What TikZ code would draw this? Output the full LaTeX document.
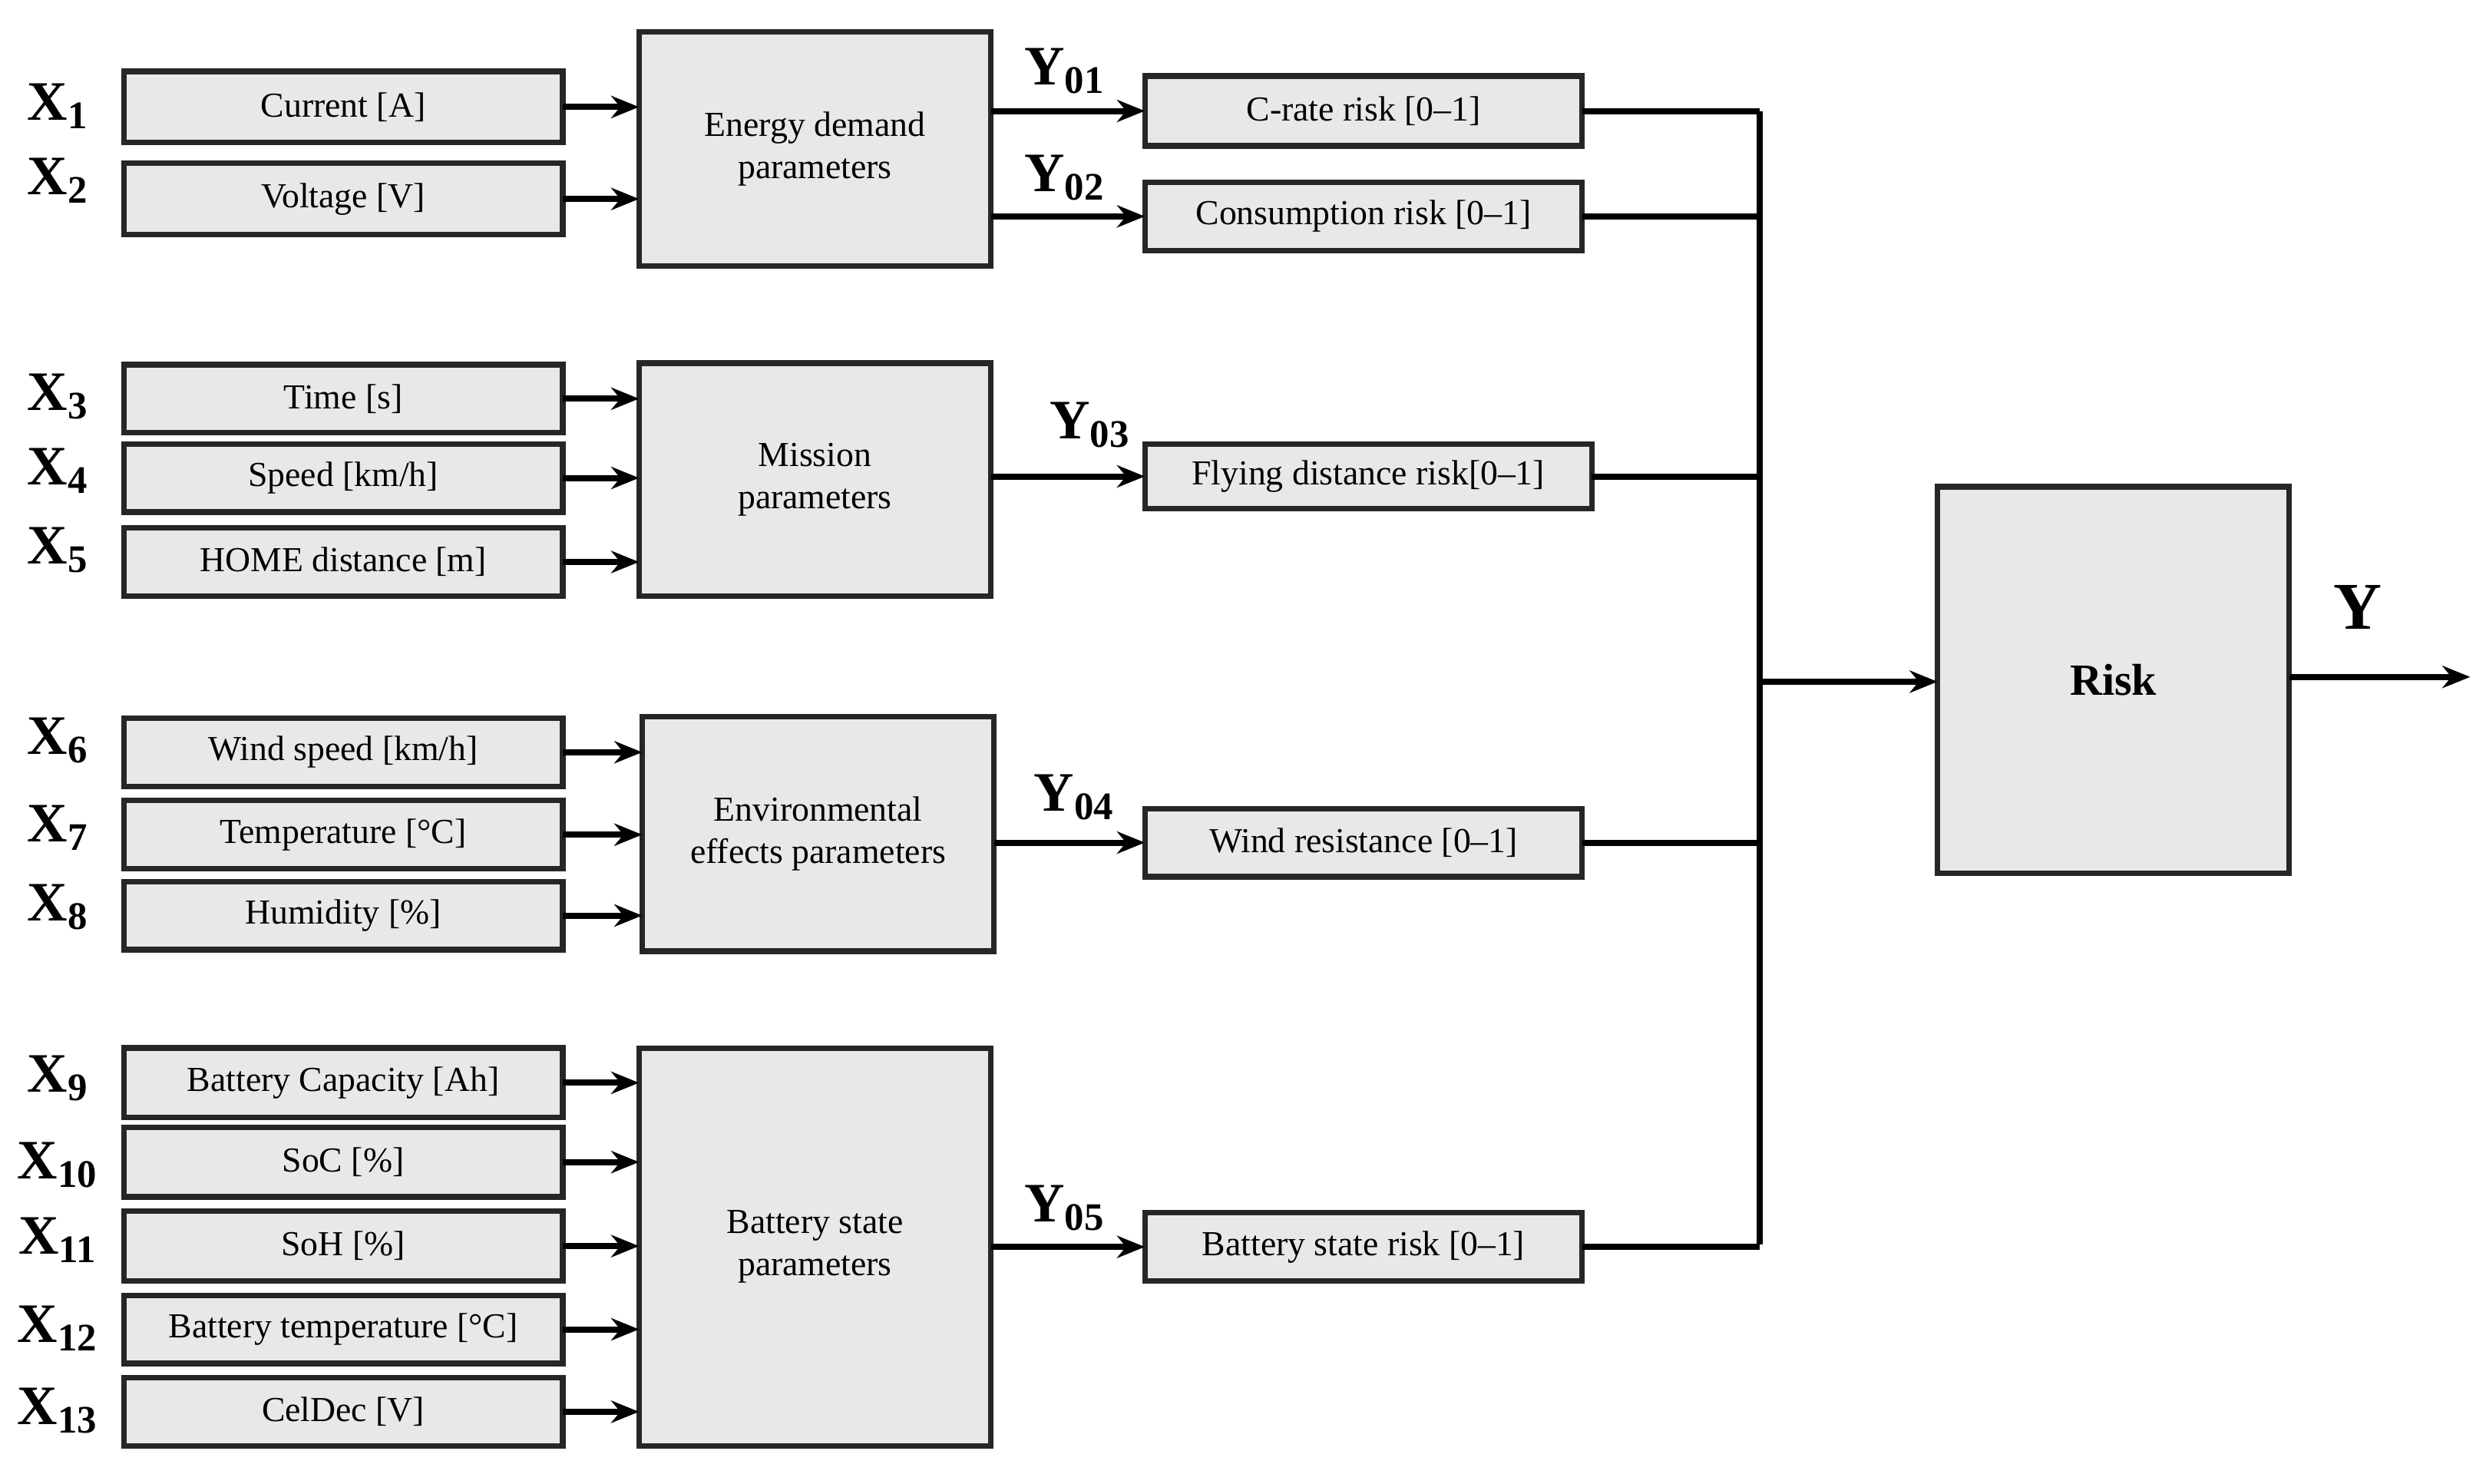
\documentclass[tikz,border=0pt]{standalone}
\usepackage{fontspec}
\setmainfont{Liberation Serif}
\usetikzlibrary{arrows.meta}
\begin{document}
\begin{tikzpicture}[
  box/.style={draw=black!85,line width=1pt,fill=gray!18,inner sep=0pt,outer sep=0pt,align=center,font=\fontsize{6.3}{7.6}\selectfont},
  arr/.style={-{Stealth[length=5pt,width=4pt]},line width=1.1pt},
  ln/.style={line width=1.1pt},
  xl/.style={font=\fontsize{10}{12}\selectfont\bfseries,inner sep=0pt},
  yl/.style={font=\fontsize{10}{12}\selectfont\bfseries,inner sep=0pt}]
\useasboundingbox (0,0) rectangle (15.68,9.36);
\newcommand\mybox[6]{\node[box,minimum width={(#4-#2)*0.01cm},minimum height={(#5-#3)*0.01cm}] (#1) at ({(#2+#4)/200},{(936-(#3+#5)/2)/100}) {#6};}
% inputs
\mybox{i1}{78}{45}{355}{90}{Current [A]}
\mybox{i2}{78}{103}{355}{148}{Voltage [V]}
\mybox{i3}{78}{230}{355}{273}{Time [s]}
\mybox{i4}{78}{280}{355}{323}{Speed [km/h]}
\mybox{i5}{78}{333}{355}{376}{HOME distance [m]}
\mybox{i6}{78}{453}{355}{496}{Wind speed [km/h]}
\mybox{i7}{78}{505}{355}{548}{Temperature [°C]}
\mybox{i8}{78}{556}{355}{599}{Humidity [\%]}
\mybox{i9}{78}{661}{355}{705}{Battery Capacity [Ah]}
\mybox{i10}{78}{711}{355}{755}{SoC [\%]}
\mybox{i11}{78}{764}{355}{808}{SoH [\%]}
\mybox{i12}{78}{817}{355}{860}{Battery temperature [°C]}
\mybox{i13}{78}{869}{355}{912}{CelDec [V]}
% parameter blocks
\mybox{p1}{403}{20}{625}{168}{Energy demand\\parameters}
\mybox{p2}{403}{229}{625}{376}{Mission\\parameters}
\mybox{p3}{405}{452}{627}{600}{Environmental\\effects parameters}
\mybox{p4}{403}{661}{625}{912}{Battery state\\parameters}
% outputs
\mybox{o1}{722}{48}{998}{92}{C-rate risk [0--1]}
\mybox{o2}{722}{115}{998}{158}{Consumption risk [0--1]}
\mybox{o3}{722}{280}{1004}{321}{Flying distance risk[0--1]}
\mybox{o4}{722}{510}{998}{553}{Wind resistance [0--1]}
\mybox{o5}{722}{765}{998}{808}{Battery state risk [0--1]}
\mybox{r}{1222}{307}{1444}{551}{\fontsize{8}{10}\selectfont\bfseries Risk}
% X labels
\foreach \n/\yy in {1/67,2/114,3/250,4/297,5/347,6/467,7/522,8/572,9/680,10/735,11/782,12/838,13/890}
  \node[xl] at (0.37,{(936-\yy)/100}) {X\textsubscript{\n}};
% input arrows
\foreach \i/\p in {1/1,2/1,3/2,4/2,5/2,6/3,7/3,8/3,9/4,10/4,11/4,12/4,13/4}
  \draw[arr] (i\i.east) -- (i\i.east -| p\p.west);
% param to outputs
\draw[arr] (p1.east |- o1.west) -- (o1.west);
\draw[arr] (p1.east |- o2.west) -- (o2.west);
\draw[arr] (p2.east |- o3.west) -- (o3.west);
\draw[arr] (p3.east |- o4.west) -- (o4.west);
\draw[arr] (p4.east |- o5.west) -- (o5.west);
\node[yl] at (6.72,{(936-45)/100}) {Y\textsubscript{01}};
\node[yl] at (6.72,{(936-112)/100}) {Y\textsubscript{02}};
\node[yl] at (6.88,{(936-268)/100}) {Y\textsubscript{03}};
\node[yl] at (6.78,{(936-503)/100}) {Y\textsubscript{04}};
\node[yl] at (6.72,{(936-762)/100}) {Y\textsubscript{05}};
% bus
\coordinate (bt) at (11.10,{(936-70)/100});
\coordinate (bb) at (11.10,{(936-785)/100});
\coordinate (bm) at (11.10,{(936-430)/100});
\draw[ln] (bt) -- (bb);
\foreach \o in {1,...,5} \draw[ln] (o\o.east) -- (o\o.east -| bt);
\draw[arr] (bm) -- (r.west |- bm);
\coordinate (yend) at (15.58,{(936-427)/100});
\draw[arr] (r.east |- yend) -- (yend);
\node[font=\fontsize{12}{14}\selectfont\bfseries,inner sep=0pt] at (14.87,{(936-383)/100}) {Y};
\end{tikzpicture}
\end{document}
